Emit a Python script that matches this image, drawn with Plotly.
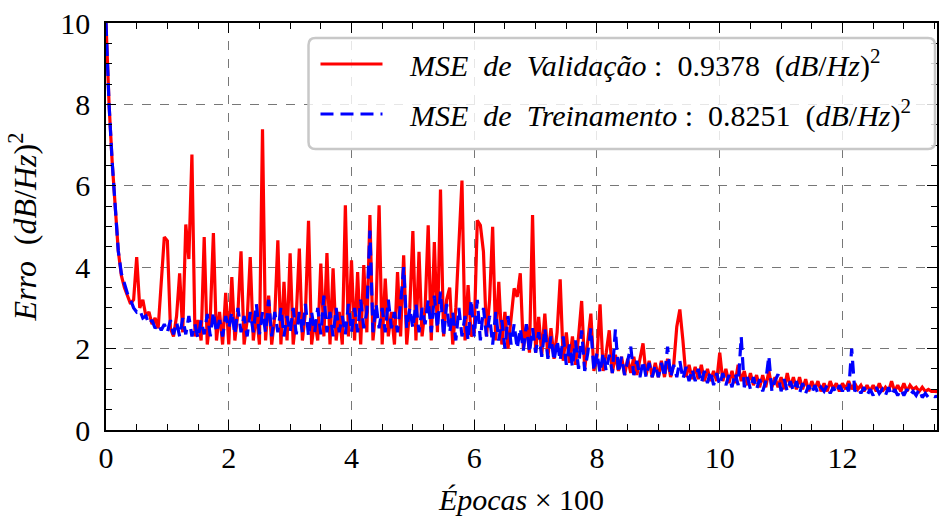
import numpy as np
import plotly.graph_objects as go

STEP = 0.05  # epochs x 100 between stored samples

val_mse = [
    10.0, 8.0, 6.6, 5.5, 4.4, 3.8, 3.5, 3.3, 3.1, 3.2, 4.25, 3.0, 3.2, 2.8, 2.9, 2.6, 2.75, 2.5, 3.6, 4.74,
    4.65, 2.5, 2.3, 2.8, 3.85, 2.4, 5.05, 4.2, 6.77, 2.3, 2.7, 2.2, 4.74, 2.1, 2.8, 4.84, 2.2, 2.9, 2.1, 3.37,
    2.1, 3.76, 2.2, 2.9, 4.39, 2.1, 2.7, 4.25, 2.2, 2.9, 2.1, 7.39, 2.2, 3.3, 2.1, 2.8, 4.66, 2.1, 3.64, 2.2,
    4.34, 2.1, 2.8, 4.46, 2.2, 2.9, 5.14, 2.1, 2.7, 2.2, 4.09, 2.3, 4.35, 2.1, 3.97, 2.2, 2.9, 2.1, 5.52, 2.3,
    4.17, 2.2, 3.88, 2.1, 4.05, 2.4, 5.28, 2.2, 3.0, 5.52, 2.1, 3.72, 2.3, 2.9, 2.1, 3.88, 2.3, 4.29, 2.1, 3.0,
    4.89, 2.2, 4.38, 2.3, 3.0, 5.03, 2.2, 4.62, 2.4, 5.91, 2.3, 3.2, 3.5, 2.1, 3.0, 4.70, 6.13, 2.2, 3.56, 2.3,
    2.4, 5.15, 5.03, 4.38, 2.3, 3.2, 4.99, 2.2, 3.64, 2.1, 2.9, 2.0, 2.8, 3.48, 3.27, 3.85, 2.0, 2.6, 1.9, 5.28,
    1.9, 2.78, 1.85, 2.86, 1.8, 2.5, 1.75, 2.4, 3.70, 1.7, 2.4, 1.65, 2.3, 1.6, 2.3, 3.17, 1.5, 2.2, 2.86, 1.45,
    1.8, 3.09, 1.45, 1.9, 2.45, 1.4, 1.85, 1.45, 1.8, 1.35, 1.75, 1.4, 1.8, 1.35, 1.7, 2.13, 1.35, 1.7, 1.3, 1.65,
    1.3, 1.7, 1.3, 1.75, 1.3, 1.6, 2.54, 2.96, 2.2, 1.3, 1.6, 1.25, 1.55, 1.25, 1.6, 1.2, 1.5, 1.2, 1.45, 1.2,
    1.9, 1.2, 1.5, 1.15, 1.45, 1.15, 1.6, 1.2, 1.45, 1.1, 1.4, 1.1, 1.35, 1.05, 1.35, 1.05, 1.45, 1.05, 1.3, 1.05,
    1.3, 1.0, 1.4, 1.05, 1.3, 1.0, 1.3, 1.0, 1.25, 0.95, 1.2, 1.0, 1.2, 0.95, 1.15, 0.95, 1.2, 1.0, 1.15, 0.95,
    1.15, 1.0, 1.2, 1.0, 1.15, 1.0, 1.1, 0.95, 1.1, 0.95, 1.1, 0.95, 1.15, 0.95, 1.05, 0.95, 1.2, 0.95, 1.1, 0.95,
    1.15, 0.95, 1.1, 1.0, 1.05, 0.95, 1.05, 0.95, 1.0, 0.95, 0.95, 0.94,
]

train_mse = [
    10.0, 8.0, 6.6, 5.5, 4.4, 3.85, 3.6, 3.35, 3.2, 3.0, 2.9, 2.95, 2.75, 2.8, 2.6, 2.7, 2.5, 2.6, 2.45, 2.6,
    2.4, 2.7, 2.35, 2.65, 2.3, 2.75, 2.35, 2.8, 2.3, 2.6, 2.25, 2.7, 2.35, 2.85, 2.3, 2.9, 2.4, 2.7, 2.3, 2.8,
    2.5, 2.9, 2.35, 3.0, 2.4, 2.8, 2.3, 2.9, 2.4, 3.1, 2.35, 2.9, 2.4, 3.2, 2.3, 2.9, 2.4, 3.0, 2.3, 2.8,
    2.4, 3.0, 2.35, 2.9, 2.4, 3.1, 2.3, 2.9, 2.4, 3.0, 2.35, 3.3, 2.4, 2.9, 2.3, 3.0, 2.4, 2.8, 2.35, 3.1,
    2.4, 3.0, 2.4, 3.2, 2.5, 2.9, 4.9, 2.4, 3.1, 2.5, 3.0, 2.4, 3.2, 2.5, 2.9, 2.4, 3.1, 4.0, 2.5, 3.0,
    2.5, 3.1, 2.4, 3.0, 2.6, 3.2, 2.4, 3.3, 2.5, 3.4, 2.3, 3.1, 2.4, 2.9, 2.2, 3.0, 2.3, 2.8, 2.2, 3.2,
    2.3, 3.2, 2.2, 3.0, 2.3, 2.8, 2.1, 2.9, 2.2, 2.7, 2.0, 2.8, 2.1, 2.6, 2.0, 2.5, 1.95, 2.6, 1.9, 2.5,
    1.9, 2.4, 1.8, 2.5, 1.75, 2.3, 1.7, 2.2, 1.7, 2.3, 1.6, 2.1, 1.55, 2.2, 1.5, 2.45, 1.45, 1.9, 2.5, 1.45,
    1.9, 1.4, 1.9, 1.45, 1.85, 1.4, 2.47, 1.4, 1.8, 1.35, 1.7, 2.05, 1.35, 1.7, 1.3, 1.7, 1.3, 1.65, 1.3, 1.6,
    1.3, 1.65, 1.3, 2.05, 1.3, 1.6, 1.3, 1.7, 1.25, 1.55, 1.2, 1.5, 1.2, 1.5, 1.15, 1.45, 1.15, 1.45, 1.1, 1.4,
    1.1, 1.4, 1.1, 1.35, 1.05, 1.4, 1.1, 2.29, 1.05, 1.3, 1.0, 1.3, 1.0, 1.25, 0.95, 1.2, 1.82, 0.95, 1.2, 1.37,
    0.95, 1.25, 0.95, 1.2, 0.95, 1.2, 0.9, 1.15, 0.9, 1.1, 0.9, 1.1, 0.9, 1.05, 0.95, 1.1, 0.9, 1.05, 0.9, 1.1,
    0.95, 1.1, 0.95, 2.0, 0.95, 1.05, 0.9, 1.05, 0.85, 1.0, 0.85, 1.05, 0.9, 1.0, 0.85, 1.05, 0.85, 1.0, 0.85, 1.0,
    0.85, 1.0, 0.85, 0.95, 0.85, 1.0, 0.8, 0.9, 0.8, 0.85, 0.82, 0.83,
]

val_label = "&#160;&#160;&#160;<i>MSE&#160; de&#160; Validação</i>&#160;: &#160;0.9378 &#160;(<i>dB</i>/<i>Hz</i>)<sup>2</sup>"
train_label = "&#160;&#160;&#160;<i>MSE&#160; de&#160; Treinamento</i>&#160;: &#160;0.8251 &#160;(<i>dB</i>/<i>Hz</i>)<sup>2</sup>"
x_title = "<i>Épocas</i> × 100"
y_title = "<i>Erro</i>&#160; (<i>dB</i>/<i>Hz</i>)<sup>2</sup>"
x_ticks = [0, 2, 4, 6, 8, 10, 12]
y_ticks = [0, 2, 4, 6, 8, 10]

x_val = np.arange(len(val_mse)) * STEP
x_train = np.arange(len(train_mse)) * STEP

FONT = "Liberation Serif"
W, H = 940, 518
ML, MR, MT, MB = 106, 1, 23, 88


def px_to_paper(px, py):
    return (px - ML) / (W - ML - MR), (H - MB - py) / (H - MT - MB)


fig = go.Figure()
fig.add_trace(go.Scatter(x=x_val, y=val_mse, mode="lines", name=val_label,
                         legendgroup="v", line=dict(color="#ff0000", width=3.2)))
fig.add_trace(go.Scatter(x=x_train, y=train_mse, mode="lines", name=train_label,
                         legendgroup="t", line=dict(color="#0000ff", width=3.2, dash="13px,7px")))

axis_common = dict(
    showline=True, linecolor="black", linewidth=1.6, mirror="ticks",
    ticks="inside", ticklen=10, tickwidth=1.3, tickcolor="black",
    showgrid=True, gridcolor="#777777", gridwidth=1, griddash="dash",
    zeroline=False,
    tickfont=dict(family=FONT, size=30, color="black"),
    minor=dict(ticks="inside", ticklen=6, tickwidth=1, tickcolor="black", showgrid=False),
)

fig.update_xaxes(range=[0, 13.54], tickvals=x_ticks, minor_dtick=0.5,
                 title=dict(text=x_title, font=dict(family=FONT, size=30, color="black"), standoff=16),
                 **axis_common)
fig.update_yaxes(range=[0, 10], tickvals=y_ticks, minor_dtick=0.5, ticklabelstandoff=8,
                 title=dict(text=y_title, font=dict(family=FONT, size=32, color="black"), standoff=14),
                 **axis_common)

# rounded legend frame (matplotlib-style)
bx0, by0 = px_to_paper(309, 38)
bx1, by1 = px_to_paper(937, 149)
rx = 7 / (W - ML - MR)
ry = 7 / (H - MT - MB)
path = (f"M {bx0+rx},{by0} L {bx1-rx},{by0} Q {bx1},{by0} {bx1},{by0-ry} "
        f"L {bx1},{by1+ry} Q {bx1},{by1} {bx1-rx},{by1} "
        f"L {bx0+rx},{by1} Q {bx0},{by1} {bx0},{by1+ry} "
        f"L {bx0},{by0-ry} Q {bx0},{by0} {bx0+rx},{by0} Z")
fig.add_shape(type="path", path=path, xref="paper", yref="paper", layer="above",
              fillcolor="rgba(255,255,255,0.82)", line=dict(color="#c8c8c8", width=2.5))

lx, ly = px_to_paper(316, 38)
fig.update_layout(
    width=W, height=H,
    margin=dict(l=ML, r=MR, t=MT, b=MB),
    plot_bgcolor="white", paper_bgcolor="white",
    showlegend=True,
    legend=dict(x=lx, y=ly, xanchor="left", yanchor="top",
                bgcolor="rgba(0,0,0,0)", borderwidth=0,
                font=dict(family=FONT, size=30, color="black"),
                itemwidth=62, traceorder="grouped", tracegroupgap=8),
)

fig.write_html("out.html")
